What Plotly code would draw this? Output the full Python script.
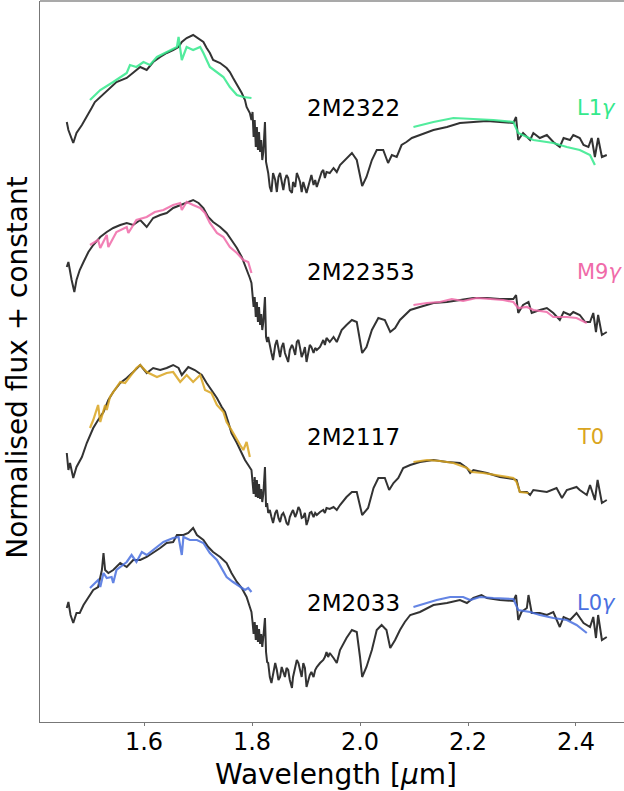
import plotly.graph_objects as go

# ---------------- data ----------------
object_names = ["2M2322", "2M22353", "2M2117", "2M2033"]
template_types = ["L1<i>γ</i>", "M9<i>γ</i>", "T0", "L0<i>γ</i>"]
label_flux = [6.14, 4.50, 2.85, 1.19]   # vertical position of the labels (flux + constant)
name_wave = 1.9
type_wave = 2.4
tick_vals = [1.6, 1.8, 2.0, 2.2, 2.4]
tick_text = ["1.6", "1.8", "2.0", "2.2", "2.4"]

# (wavelength [um], normalised flux + constant)
spec_2322 = [
    (1.457, 6.00), (1.460, 5.92), (1.469, 5.79), (1.475, 5.89), (1.485, 5.97), (1.494, 6.05), (1.503, 6.14),
    (1.509, 6.20), (1.519, 6.25), (1.531, 6.32), (1.549, 6.40), (1.568, 6.44), (1.580, 6.49), (1.593, 6.55),
    (1.605, 6.52), (1.617, 6.60), (1.630, 6.65), (1.642, 6.69), (1.654, 6.72), (1.664, 6.75), (1.670, 6.80),
    (1.679, 6.84), (1.691, 6.87), (1.704, 6.82), (1.710, 6.80), (1.716, 6.74), (1.722, 6.69), (1.728, 6.62),
    (1.741, 6.59), (1.753, 6.54), (1.759, 6.50), (1.765, 6.44), (1.775, 6.35), (1.781, 6.29), (1.787, 6.22),
    (1.790, 6.15), (1.796, 6.09), (1.799, 6.02), (1.801, 6.10), (1.803, 5.85), (1.805, 6.02), (1.807, 5.75),
    (1.809, 5.95), (1.811, 5.72), (1.813, 5.90), (1.815, 5.70), (1.817, 5.82), (1.819, 5.62), (1.821, 5.70),
    (1.824, 6.00), (1.826, 5.60), (1.828, 5.55), (1.830, 5.49), (1.833, 5.35), (1.836, 5.30), (1.839, 5.49),
    (1.843, 5.42), (1.846, 5.30), (1.849, 5.45), (1.852, 5.49), (1.855, 5.40), (1.858, 5.32), (1.861, 5.42),
    (1.864, 5.47), (1.867, 5.44), (1.870, 5.32), (1.874, 5.29), (1.876, 5.40), (1.880, 5.35), (1.883, 5.49),
    (1.886, 5.45), (1.889, 5.40), (1.892, 5.30), (1.895, 5.40), (1.901, 5.29), (1.904, 5.35), (1.907, 5.40),
    (1.910, 5.47), (1.914, 5.37), (1.917, 5.42), (1.920, 5.35), (1.923, 5.40), (1.929, 5.50), (1.932, 5.52),
    (1.935, 5.44), (1.938, 5.50), (1.944, 5.49), (1.951, 5.54), (1.957, 5.50), (1.963, 5.57), (1.975, 5.64),
    (1.985, 5.69), (1.994, 5.62), (2.000, 5.45), (2.004, 5.36), (2.012, 5.45), (2.022, 5.62), (2.031, 5.72),
    (2.043, 5.72), (2.052, 5.59), (2.059, 5.67), (2.068, 5.65), (2.077, 5.77), (2.086, 5.80), (2.096, 5.84),
    (2.111, 5.87), (2.136, 5.92), (2.161, 5.95), (2.185, 5.99), (2.210, 6.00), (2.235, 6.01), (2.259, 6.00),
    (2.284, 5.99), (2.289, 6.05), (2.293, 5.82), (2.302, 5.89), (2.315, 5.82), (2.321, 5.89), (2.333, 5.84),
    (2.346, 5.87), (2.358, 5.80), (2.370, 5.75), (2.377, 5.84), (2.389, 5.82), (2.395, 5.87), (2.407, 5.84),
    (2.414, 5.77), (2.423, 5.75), (2.429, 5.84), (2.435, 5.65), (2.441, 5.84), (2.448, 5.65), (2.457, 5.67)]
tmpl_h_2322 = [
    (1.500, 6.22), (1.519, 6.32), (1.543, 6.40), (1.568, 6.49), (1.574, 6.57), (1.586, 6.55), (1.599, 6.60),
    (1.611, 6.57), (1.624, 6.65), (1.642, 6.70), (1.661, 6.75), (1.664, 6.85), (1.670, 6.62), (1.679, 6.75),
    (1.691, 6.72), (1.704, 6.75), (1.710, 6.69), (1.722, 6.55), (1.735, 6.50), (1.747, 6.45), (1.759, 6.35),
    (1.772, 6.27), (1.784, 6.25), (1.799, 6.24)]
tmpl_k_2322 = [
    (2.099, 5.95), (2.136, 6.00), (2.173, 6.04), (2.210, 6.03), (2.247, 6.02), (2.284, 6.00), (2.293, 5.89),
    (2.321, 5.82), (2.358, 5.79), (2.383, 5.75), (2.407, 5.72), (2.426, 5.67), (2.435, 5.57)]

spec_22353 = [
    (1.457, 4.55), (1.460, 4.60), (1.466, 4.42), (1.471, 4.30), (1.475, 4.42), (1.481, 4.52), (1.488, 4.60),
    (1.497, 4.70), (1.506, 4.77), (1.519, 4.85), (1.531, 4.90), (1.543, 4.94), (1.556, 4.97), (1.568, 4.99),
    (1.580, 4.97), (1.593, 5.02), (1.605, 4.95), (1.617, 5.04), (1.630, 5.07), (1.642, 5.09), (1.654, 5.14),
    (1.667, 5.17), (1.679, 5.20), (1.691, 5.22), (1.701, 5.19), (1.710, 5.14), (1.719, 5.05), (1.728, 5.00),
    (1.741, 4.95), (1.753, 4.89), (1.762, 4.82), (1.772, 4.74), (1.781, 4.65), (1.787, 4.57), (1.793, 4.49),
    (1.796, 4.44), (1.799, 4.39), (1.801, 4.30), (1.803, 4.15), (1.805, 4.25), (1.807, 4.05), (1.809, 4.20),
    (1.811, 4.00), (1.813, 4.15), (1.815, 3.97), (1.817, 4.08), (1.819, 3.92), (1.821, 4.00), (1.824, 4.25),
    (1.826, 3.85), (1.828, 3.80), (1.830, 3.85), (1.833, 3.75), (1.836, 3.69), (1.839, 3.62), (1.843, 3.77),
    (1.846, 3.82), (1.849, 3.72), (1.852, 3.65), (1.855, 3.75), (1.858, 3.79), (1.861, 3.69), (1.864, 3.65),
    (1.867, 3.60), (1.870, 3.72), (1.874, 3.77), (1.876, 3.75), (1.880, 3.67), (1.883, 3.80), (1.886, 3.82),
    (1.889, 3.74), (1.892, 3.65), (1.895, 3.69), (1.898, 3.75), (1.901, 3.60), (1.904, 3.69), (1.907, 3.77),
    (1.910, 3.75), (1.914, 3.69), (1.917, 3.74), (1.920, 3.72), (1.926, 3.75), (1.932, 3.82), (1.935, 3.77),
    (1.938, 3.84), (1.944, 3.80), (1.951, 3.85), (1.957, 3.80), (1.966, 3.92), (1.975, 3.97), (1.985, 4.02),
    (1.994, 4.00), (2.000, 3.82), (2.004, 3.69), (2.012, 3.75), (2.022, 3.92), (2.034, 4.04), (2.046, 4.02),
    (2.056, 3.90), (2.065, 3.94), (2.074, 4.02), (2.083, 4.07), (2.093, 4.12), (2.111, 4.15), (2.136, 4.19),
    (2.161, 4.20), (2.185, 4.22), (2.210, 4.24), (2.235, 4.24), (2.259, 4.23), (2.284, 4.23), (2.289, 4.27),
    (2.293, 4.09), (2.302, 4.17), (2.312, 4.20), (2.318, 4.09), (2.333, 4.12), (2.346, 4.14), (2.358, 4.09),
    (2.370, 4.02), (2.377, 4.10), (2.389, 4.07), (2.395, 4.10), (2.407, 4.07), (2.417, 4.00), (2.426, 4.00),
    (2.432, 4.09), (2.437, 3.90), (2.441, 4.07), (2.448, 3.87), (2.457, 3.90)]
tmpl_h_22353 = [
    (1.500, 4.77), (1.515, 4.82), (1.519, 4.74), (1.531, 4.87), (1.534, 4.75), (1.549, 4.90), (1.568, 4.95),
    (1.571, 4.89), (1.586, 5.02), (1.605, 5.05), (1.620, 5.10), (1.636, 5.12), (1.654, 5.17), (1.667, 5.19),
    (1.670, 5.12), (1.679, 5.20), (1.691, 5.17), (1.704, 5.14), (1.713, 5.09), (1.722, 4.99), (1.735, 4.89),
    (1.747, 4.85), (1.759, 4.75), (1.772, 4.69), (1.784, 4.62), (1.793, 4.60), (1.799, 4.49)]
tmpl_k_22353 = [
    (2.099, 4.17), (2.124, 4.19), (2.148, 4.20), (2.170, 4.23), (2.191, 4.21), (2.216, 4.24), (2.241, 4.23),
    (2.265, 4.22), (2.284, 4.20), (2.293, 4.14), (2.309, 4.15), (2.321, 4.12), (2.346, 4.10), (2.358, 4.05),
    (2.383, 4.05), (2.401, 4.04), (2.420, 3.99)]

spec_2117 = [
    (1.457, 2.69), (1.460, 2.52), (1.463, 2.59), (1.469, 2.44), (1.475, 2.55), (1.485, 2.65), (1.494, 2.79),
    (1.500, 2.87), (1.506, 2.94), (1.515, 3.02), (1.525, 3.10), (1.534, 3.22), (1.543, 3.30), (1.556, 3.39),
    (1.568, 3.44), (1.580, 3.50), (1.593, 3.57), (1.605, 3.49), (1.617, 3.54), (1.630, 3.52), (1.642, 3.54),
    (1.654, 3.57), (1.664, 3.54), (1.670, 3.47), (1.682, 3.55), (1.694, 3.52), (1.707, 3.47), (1.716, 3.39),
    (1.725, 3.32), (1.735, 3.24), (1.744, 3.15), (1.750, 3.10), (1.756, 3.00), (1.762, 2.89), (1.772, 2.79),
    (1.778, 2.72), (1.787, 2.62), (1.793, 2.57), (1.796, 2.55), (1.799, 2.52), (1.801, 2.40), (1.803, 2.28),
    (1.805, 2.45), (1.807, 2.25), (1.809, 2.42), (1.811, 2.24), (1.813, 2.38), (1.815, 2.23), (1.817, 2.33),
    (1.819, 2.20), (1.821, 2.28), (1.824, 2.55), (1.826, 2.15), (1.828, 2.19), (1.830, 2.09), (1.833, 2.12),
    (1.836, 2.05), (1.839, 1.99), (1.843, 2.09), (1.846, 2.12), (1.849, 2.04), (1.852, 2.00), (1.855, 2.07),
    (1.858, 2.09), (1.861, 2.05), (1.864, 1.99), (1.867, 1.97), (1.870, 2.05), (1.874, 2.10), (1.876, 2.12),
    (1.880, 2.05), (1.883, 2.09), (1.886, 2.15), (1.889, 2.12), (1.892, 2.04), (1.895, 2.05), (1.898, 2.09),
    (1.901, 1.97), (1.904, 2.02), (1.907, 2.09), (1.910, 2.10), (1.914, 2.05), (1.917, 2.09), (1.920, 2.07),
    (1.926, 2.10), (1.932, 2.12), (1.935, 2.09), (1.938, 2.14), (1.944, 2.13), (1.951, 2.15), (1.957, 2.12),
    (1.963, 2.17), (1.975, 2.25), (1.985, 2.30), (1.994, 2.30), (2.000, 2.14), (2.004, 2.07), (2.015, 2.14),
    (2.025, 2.34), (2.034, 2.44), (2.046, 2.44), (2.054, 2.32), (2.062, 2.39), (2.071, 2.44), (2.080, 2.54),
    (2.093, 2.57), (2.111, 2.60), (2.136, 2.62), (2.161, 2.60), (2.185, 2.59), (2.198, 2.54), (2.204, 2.49),
    (2.210, 2.52), (2.235, 2.49), (2.259, 2.45), (2.284, 2.43), (2.290, 2.42), (2.296, 2.30), (2.309, 2.30),
    (2.315, 2.27), (2.321, 2.32), (2.346, 2.30), (2.364, 2.34), (2.374, 2.24), (2.383, 2.32), (2.401, 2.35),
    (2.407, 2.32), (2.420, 2.27), (2.426, 2.37), (2.435, 2.22), (2.440, 2.42), (2.448, 2.19), (2.457, 2.22)]
tmpl_h_2117 = [
    (1.500, 2.94), (1.506, 3.02), (1.515, 3.17), (1.519, 3.00), (1.528, 3.17), (1.531, 3.12), (1.537, 3.25),
    (1.546, 3.32), (1.556, 3.40), (1.565, 3.39), (1.574, 3.45), (1.586, 3.54), (1.593, 3.57), (1.605, 3.50),
    (1.624, 3.45), (1.642, 3.49), (1.654, 3.50), (1.667, 3.40), (1.679, 3.47), (1.691, 3.40), (1.704, 3.47),
    (1.713, 3.32), (1.725, 3.29), (1.735, 3.17), (1.747, 3.10), (1.753, 3.00), (1.762, 2.92), (1.772, 2.82),
    (1.778, 2.77), (1.784, 2.72), (1.790, 2.80), (1.796, 2.65)]
tmpl_k_2117 = [
    (2.099, 2.60), (2.124, 2.62), (2.148, 2.61), (2.173, 2.59), (2.198, 2.54), (2.207, 2.50), (2.228, 2.49),
    (2.259, 2.46), (2.284, 2.44), (2.290, 2.40), (2.296, 2.30), (2.312, 2.29)]

spec_2033 = [
    (1.457, 1.14), (1.460, 1.20), (1.464, 1.07), (1.469, 0.99), (1.475, 1.09), (1.481, 1.09), (1.488, 1.17),
    (1.497, 1.25), (1.506, 1.32), (1.515, 1.35), (1.522, 1.52), (1.525, 1.69), (1.528, 1.52), (1.534, 1.49),
    (1.543, 1.52), (1.556, 1.59), (1.568, 1.55), (1.580, 1.62), (1.593, 1.62), (1.605, 1.65), (1.617, 1.69),
    (1.630, 1.74), (1.642, 1.79), (1.654, 1.80), (1.661, 1.87), (1.673, 1.87), (1.682, 1.89), (1.691, 1.94),
    (1.698, 1.87), (1.710, 1.82), (1.719, 1.75), (1.728, 1.70), (1.741, 1.65), (1.753, 1.59), (1.762, 1.49),
    (1.772, 1.40), (1.781, 1.34), (1.790, 1.25), (1.796, 1.15), (1.799, 1.10), (1.801, 1.00), (1.803, 0.88),
    (1.805, 1.00), (1.807, 0.82), (1.809, 0.97), (1.811, 0.80), (1.813, 0.93), (1.815, 0.78), (1.817, 0.88),
    (1.819, 0.75), (1.821, 0.85), (1.824, 1.04), (1.826, 0.70), (1.828, 0.60), (1.830, 0.59), (1.833, 0.45),
    (1.836, 0.39), (1.839, 0.49), (1.843, 0.59), (1.846, 0.52), (1.849, 0.42), (1.852, 0.45), (1.855, 0.55),
    (1.858, 0.50), (1.861, 0.45), (1.864, 0.54), (1.867, 0.52), (1.870, 0.42), (1.874, 0.34), (1.876, 0.45),
    (1.880, 0.55), (1.883, 0.62), (1.886, 0.59), (1.889, 0.50), (1.892, 0.45), (1.895, 0.59), (1.898, 0.54),
    (1.901, 0.35), (1.904, 0.42), (1.907, 0.47), (1.910, 0.50), (1.914, 0.45), (1.917, 0.52), (1.920, 0.55),
    (1.926, 0.59), (1.932, 0.62), (1.935, 0.65), (1.938, 0.70), (1.941, 0.65), (1.944, 0.69), (1.951, 0.64),
    (1.957, 0.59), (1.963, 0.72), (1.975, 0.84), (1.985, 0.92), (1.994, 0.90), (2.000, 0.65), (2.004, 0.45),
    (2.012, 0.55), (2.022, 0.72), (2.031, 0.92), (2.040, 0.97), (2.049, 0.92), (2.056, 0.74), (2.065, 0.82),
    (2.074, 0.92), (2.083, 1.00), (2.093, 1.07), (2.111, 1.10), (2.136, 1.17), (2.161, 1.19), (2.185, 1.22),
    (2.198, 1.19), (2.210, 1.24), (2.225, 1.27), (2.235, 1.24), (2.259, 1.22), (2.284, 1.21), (2.289, 1.27),
    (2.293, 1.02), (2.299, 1.10), (2.309, 1.14), (2.312, 1.27), (2.318, 1.09), (2.333, 1.09), (2.346, 1.07),
    (2.358, 1.10), (2.370, 0.95), (2.377, 1.05), (2.389, 1.02), (2.401, 1.09), (2.414, 0.99), (2.426, 0.95),
    (2.432, 1.05), (2.437, 0.84), (2.441, 1.07), (2.448, 0.82), (2.457, 0.85)]
tmpl_h_2033 = [
    (1.500, 1.34), (1.509, 1.39), (1.515, 1.42), (1.519, 1.35), (1.525, 1.49), (1.531, 1.44), (1.540, 1.45),
    (1.543, 1.39), (1.549, 1.52), (1.568, 1.60), (1.577, 1.67), (1.586, 1.60), (1.596, 1.70), (1.605, 1.67),
    (1.617, 1.72), (1.636, 1.80), (1.654, 1.84), (1.664, 1.85), (1.670, 1.67), (1.673, 1.85), (1.685, 1.82),
    (1.698, 1.82), (1.710, 1.79), (1.722, 1.69), (1.735, 1.62), (1.744, 1.54), (1.753, 1.45), (1.765, 1.40),
    (1.778, 1.35), (1.787, 1.32), (1.793, 1.34), (1.799, 1.30)]
tmpl_k_2033 = [
    (2.099, 1.15), (2.124, 1.19), (2.142, 1.22), (2.167, 1.25), (2.191, 1.25), (2.204, 1.22), (2.222, 1.25),
    (2.247, 1.24), (2.284, 1.23), (2.293, 1.12), (2.315, 1.10), (2.333, 1.07), (2.358, 1.04), (2.383, 1.02),
    (2.401, 0.97), (2.420, 0.89)]

# ---------------- figure ----------------
observed = [spec_2322, spec_22353, spec_2117, spec_2033]
tmpl_h = [tmpl_h_2322, tmpl_h_22353, tmpl_h_2117, tmpl_h_2033]
tmpl_k = [tmpl_k_2322, tmpl_k_22353, tmpl_k_2117, tmpl_k_2033]
colors = ["#34e98c", "#f06ba9", "#daa520", "#4a70e0"]
FONT = "DejaVu Sans"


def xy(points):
    return [p[0] for p in points], [p[1] for p in points]


fig = go.Figure()
for i in range(4):
    x, y = xy(observed[i])
    fig.add_trace(go.Scatter(x=x, y=y, mode="lines",
                             line=dict(color="#333333", width=2), showlegend=False))
    for seg in (tmpl_h[i], tmpl_k[i]):
        x, y = xy(seg)
        fig.add_trace(go.Scatter(x=x, y=y, mode="lines", opacity=0.85,
                                 line=dict(color=colors[i], width=2.2), showlegend=False))
    fig.add_annotation(x=name_wave, y=label_flux[i], text=object_names[i], showarrow=False,
                       xanchor="left", yanchor="middle", borderpad=0,
                       font=dict(family=FONT, size=23, color="black"))
    fig.add_annotation(x=type_wave, y=label_flux[i], text=template_types[i], showarrow=False,
                       xanchor="left", yanchor="middle", borderpad=0,
                       font=dict(family=FONT, size=21, color=colors[i]))

fig.add_annotation(xref="paper", yref="paper", x=0.5077, y=-0.0735, text="Wavelength [<i>μ</i>m]",
                   showarrow=False, xanchor="center", yanchor="middle", borderpad=0,
                   font=dict(family=FONT, size=28, color="black"))
fig.add_annotation(xref="paper", yref="paper", x=-0.0385, y=0.492, text="Normalised flux + constant",
                   showarrow=False, xanchor="center", yanchor="middle", textangle=-90, borderpad=0,
                   font=dict(family=FONT, size=28, color="black"))
fig.add_shape(type="line", xref="paper", yref="paper", x0=0, x1=1, y0=1, y1=1,
              line=dict(color="#555555", width=1.2))

fig.update_layout(
    width=624, height=791, margin=dict(l=40, r=0, t=1, b=69),
    paper_bgcolor="white", plot_bgcolor="white",
    xaxis=dict(range=[1.4074, 2.4889], tickvals=tick_vals, ticktext=tick_text,
               showgrid=False, zeroline=False, showline=True, linecolor="#777777", linewidth=1.2,
               ticks="outside", ticklen=3, tickcolor="#777777", tickwidth=1, ticklabelstandoff=-5,
               tickfont=dict(family=FONT, size=24, color="black")),
    yaxis=dict(range=[0, 7.21], showticklabels=False, ticks="", showgrid=False, zeroline=False,
               showline=True, linecolor="#777777", linewidth=1.2),
    font=dict(family=FONT),
)

fig.write_html("out.html")
